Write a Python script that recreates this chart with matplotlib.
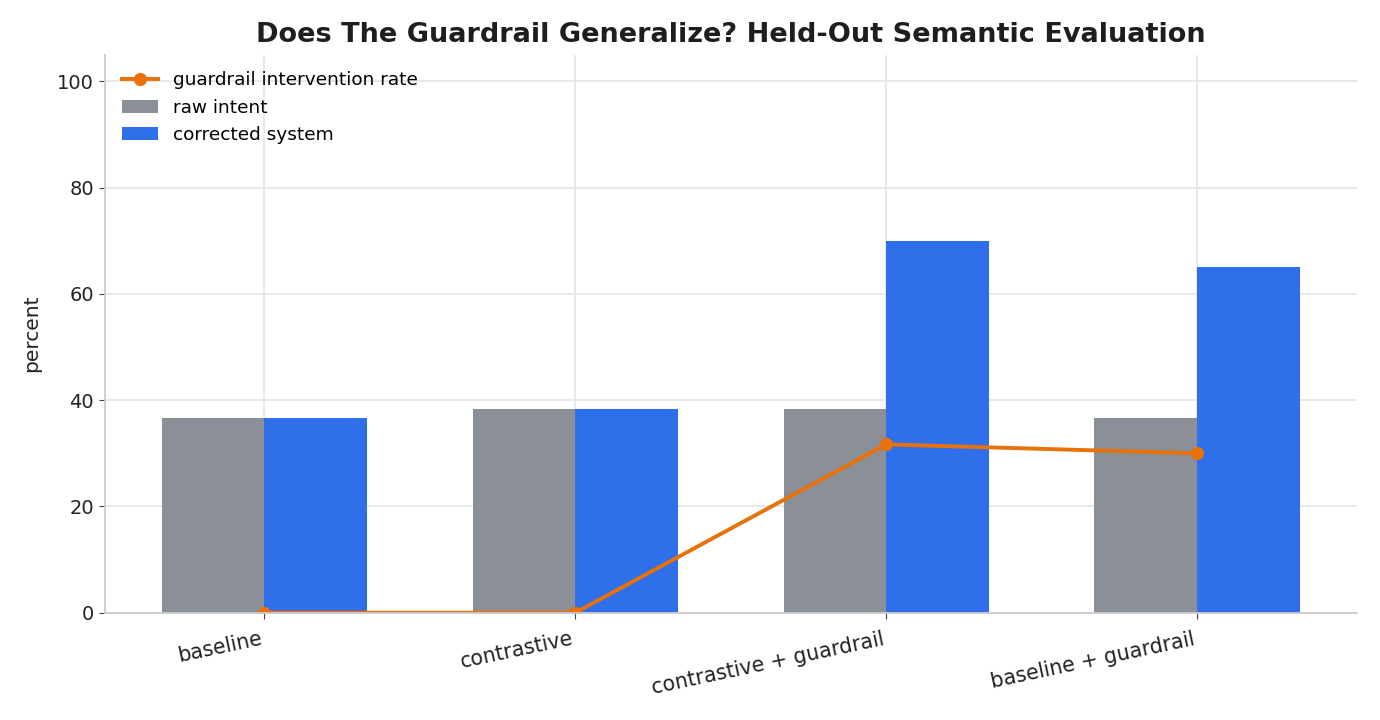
import numpy as np
import matplotlib
matplotlib.use('Agg')
import matplotlib.pyplot as plt

# held-out semantic evaluation numbers (percent)
labels = ["baseline", "contrastive", "contrastive + guardrail", "baseline + guardrail"]
raw_intent = [36.67, 38.33, 38.33, 36.67]
corrected = [36.67, 38.33, 70.0, 65.0]
intervention = [0.0, 0.0, 31.67, 30.0]

GREY = "#8b8f98"
BLUE = "#2f6fea"
ORANGE = "#e8710a"

fig, ax = plt.subplots(figsize=(13.8, 7.2), dpi=100)
fig.subplots_adjust(left=0.076, right=0.983, top=0.924, bottom=0.149)

x = np.arange(len(labels))
w = 0.33
ax.bar(x - w / 2, raw_intent, w, color=GREY, label="raw intent")
ax.bar(x + w / 2, corrected, w, color=BLUE, label="corrected system")
ax.plot(x, intervention, color=ORANGE, marker="o", markersize=8.5, linewidth=2.8,
        label="guardrail intervention rate")

ax.set_ylim(0, 105)
ax.set_xticks(x)
ax.set_xticklabels(labels, rotation=12, ha="right", fontsize=14.8, color="#222222")
ax.tick_params(axis="y", labelsize=14, colors="#222222")
ax.tick_params(axis="both", color="#444444", length=4.5)
ax.tick_params(axis="x", pad=7)
ax.set_ylabel("percent", fontsize=14.5, color="#222222", labelpad=11)
ax.set_title("Does The Guardrail Generalize? Held-Out Semantic Evaluation",
             fontsize=19.5, fontweight="bold", color="#1e1e1e", pad=9)

ax.grid(True, color="#e6e7ea", linewidth=1.3)
ax.set_axisbelow(True)
for side in ["top", "right"]:
    ax.spines[side].set_visible(False)
for side in ["left", "bottom"]:
    ax.spines[side].set_color("#cccccc")
    ax.spines[side].set_linewidth(1.3)

ax.legend(loc="upper left", frameon=False, fontsize=13.3)

plt.savefig("out.png")
